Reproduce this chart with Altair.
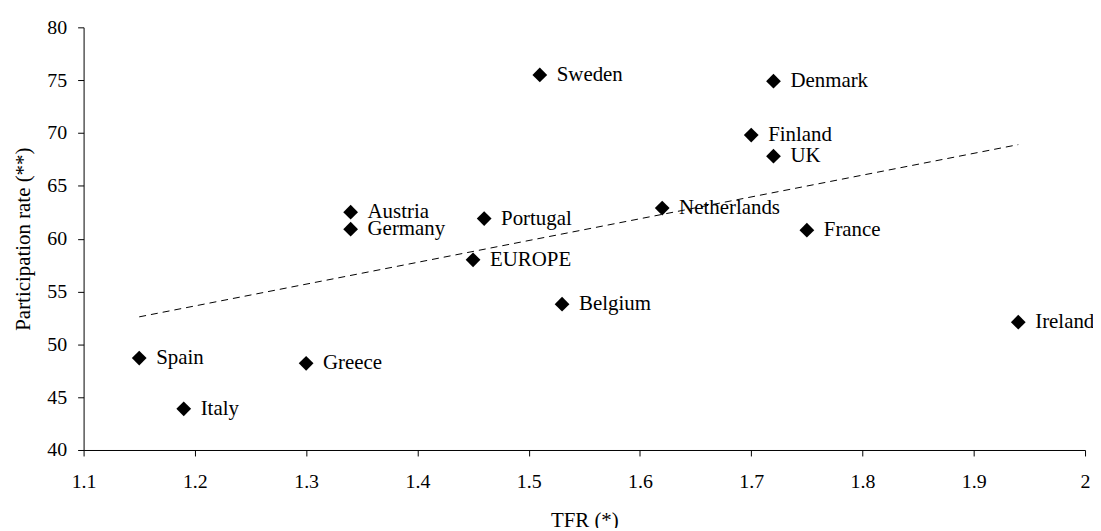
import altair as alt
import pandas as pd

countries = ["Spain", "Italy", "Greece", "Austria", "Germany", "EUROPE", "Portugal",
             "Sweden", "Belgium", "Netherlands", "Finland", "Denmark", "UK", "France", "Ireland"]
tfr = [1.15, 1.19, 1.30, 1.34, 1.34, 1.45, 1.46, 1.51, 1.53, 1.62, 1.70, 1.72, 1.72, 1.75, 1.94]
participation = [48.7, 43.9, 48.2, 62.5, 60.9, 58.0, 61.9, 75.5, 53.8, 62.9, 69.8, 74.9, 67.8, 60.8, 52.1]

trend_tfr = [1.15, 1.94]
trend_rate = [52.6, 68.9]

x_ticks = [1.1, 1.2, 1.3, 1.4, 1.5, 1.6, 1.7, 1.8, 1.9, 2.0]
y_ticks = [40, 45, 50, 55, 60, 65, 70, 75, 80]

df = pd.DataFrame({"country": countries, "tfr": tfr, "rate": participation})
trend_df = pd.DataFrame({"tfr": trend_tfr, "rate": trend_rate})

FONT = "'Liberation Serif', 'Times New Roman', Times, serif"

x_enc = alt.X(
    "tfr:Q",
    scale=alt.Scale(domain=[1.1, 2.0], nice=False, zero=False),
    axis=alt.Axis(
        title="TFR (*)",
        values=x_ticks,
        format=".1~f",
        labelFlush=False,
        labelBaseline="alphabetic",
        labelPadding=32,
        titleBaseline="alphabetic",
        titleY=77,
    ),
)
y_enc = alt.Y(
    "rate:Q",
    scale=alt.Scale(domain=[40, 80], nice=False, zero=False),
    axis=alt.Axis(
        title="Participation rate (**)",
        values=y_ticks,
        labelPadding=11,
        titleX=-60,
        titleBaseline="middle",
    ),
)

trend = alt.Chart(trend_df).mark_line(
    strokeDash=[7, 5], color="#000000", strokeWidth=1
).encode(x=x_enc, y=y_enc)

points = alt.Chart(df).mark_point(
    shape="diamond", filled=True, size=220, color="#000000", opacity=1
).encode(x=x_enc, y=y_enc)

labels = alt.Chart(df).mark_text(
    align="left", baseline="middle", dx=17, font=FONT, fontSize=21, color="#000000"
).encode(x=x_enc, y=y_enc, text="country:N")

chart = (
    alt.layer(trend, points, labels)
    .properties(
        width=1007,
        height=425,
        padding={"left": 76, "top": 18, "right": 8, "bottom": 77},
        autosize=alt.AutoSizeParams(type="none"),
        background="white",
    )
    .configure_view(stroke=None)
    .configure_axis(
        grid=False,
        domainColor="#000000",
        tickColor="#000000",
        tickSize=6,
        labelColor="#000000",
        titleColor="#000000",
        labelFont=FONT,
        titleFont=FONT,
        labelFontSize=20,
        titleFontSize=21,
        titleFontWeight="normal",
    )
)

chart.save("out.html", embed_options={"renderer": "svg", "actions": False})
